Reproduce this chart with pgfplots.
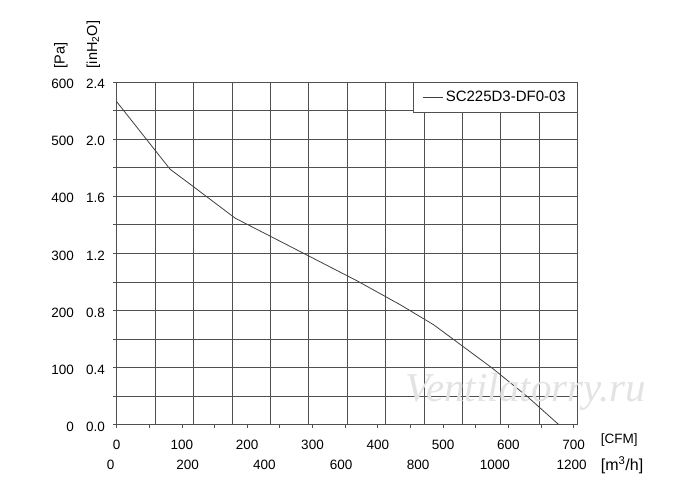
\documentclass[border=0pt]{standalone}
\usepackage{pgfplots}
\pgfplotsset{compat=1.18}
\usepackage{fontspec}
\setmainfont{Liberation Sans}
\newfontfamily\wmfont{Liberation Serif}
\definecolor{gridc}{HTML}{505050}
\definecolor{curvec}{HTML}{404040}
\begin{document}
\begin{tikzpicture}[x=1pt,y=1pt]
\path[use as bounding box] (-116.7,-65.3) rectangle (583.3,424.7);
% second axis: m3/h labels and vertical grid
\begin{axis}[
  at={(0,0)}, anchor=south west,
  scale only axis, width=461pt, height=342.7pt,
  xmin=0, xmax=1200, ymin=0, ymax=1,
  axis y line=none, axis x line*=bottom,
  x axis line style={draw=none},
  xtick={0,200,...,1200}, minor xtick={100,300,...,1100},
  xmajorgrids, xminorgrids,
  grid style={gridc, line width=0.8pt},
  minor grid style={gridc, line width=0.8pt},
  major tick length=0pt, minor tick length=0pt,
  /pgf/number format/assume math mode=true,
  /pgf/number format/1000 sep={},
  xticklabel style={font=\fontsize{13.5}{16}\selectfont, anchor=center, yshift=-40.3pt, xshift=-6pt, inner sep=0pt},
]
\addplot[draw=none] coordinates {(0,0) (1200,1)};
\end{axis}
% main axis: CFM / Pa
\begin{axis}[
  at={(0,0)}, anchor=south west,
  scale only axis, width=461pt, height=342.7pt,
  xmin=0, xmax=706.3, ymin=0, ymax=600,
  axis line style={gridc, line width=0.8pt},
  tick style={gridc, line width=0.8pt},
  xtick={0,100,...,700}, minor xtick={50,150,...,650},
  ytick={0,100,...,600}, minor ytick={50,150,...,550},
  ymajorgrids, yminorgrids,
  grid style={gridc, line width=0.8pt},
  minor grid style={gridc, line width=0.8pt},
  tick align=outside, tick pos=left,
  major tick length=3.5pt, minor tick length=3.5pt,
  /pgf/number format/assume math mode=true,
  xticklabel style={font=\fontsize{13.5}{16}\selectfont, anchor=center, yshift=-16.3pt, inner sep=0pt},
  yticklabels={{\makebox[25pt][r]{0}\makebox[31pt][r]{0.0}},
               {\makebox[25pt][r]{100}\makebox[31pt][r]{0.4}},
               {\makebox[25pt][r]{200}\makebox[31pt][r]{0.8}},
               {\makebox[25pt][r]{300}\makebox[31pt][r]{1.2}},
               {\makebox[25pt][r]{400}\makebox[31pt][r]{1.6}},
               {\makebox[25pt][r]{500}\makebox[31pt][r]{2.0}},
               {\makebox[25pt][r]{600}\makebox[31pt][r]{2.4}}},
  yticklabel style={font=\fontsize{13.5}{16}\selectfont, anchor=east, inner sep=0pt, xshift=-8pt, yshift=-2pt},
  legend style={at={(1,1)}, anchor=north east, draw=gridc, line width=0.8pt, fill=white,
    font=\fontsize{15}{17}\selectfont, inner xsep=9.5pt, inner ysep=7pt,
    /tikz/every even column/.append style={column sep=0pt}},
  legend cell align=left,
  legend image code/.code={\draw[#1] (0pt,0pt) -- (20pt,0pt);},
]
\addplot[curvec, line width=0.8pt] coordinates {
 (0,565.5) (81.8,447.3) (117.5,416.8) (181.5,361.6) (293.9,295.6)
 (368.2,251.9) (434.6,209.9) (485.7,174.9) (575.2,99.2) (628.9,49.5) (677.4,0)
};
\addlegendentry{SC225D3-DF0-03}
\end{axis}
% axis titles
\node[anchor=west, inner sep=0pt, font=\fontsize{13.5}{16}\selectfont] at (484,-15.3) {[CFM]};
\node[anchor=west, inner sep=0pt, font=\fontsize{16}{19}\selectfont] at (484,-40.3) {[m\textsuperscript{3}/h]};
\node[anchor=west, rotate=90, inner sep=0pt, font=\fontsize{14.5}{17}\selectfont] at (-55.7,356.4) {[Pa]};
\node[anchor=west, rotate=90, inner sep=0pt, font=\fontsize{14.5}{17}\selectfont] at (-23.4,356.4) {[inH\textsubscript{2}O]};
% watermark
\node[inner sep=0pt, font=\wmfont\itshape\fontsize{41}{44}\selectfont, text=gray!22] at (409.2,33) {Ventilatorry.ru};
\end{tikzpicture}
\end{document}
